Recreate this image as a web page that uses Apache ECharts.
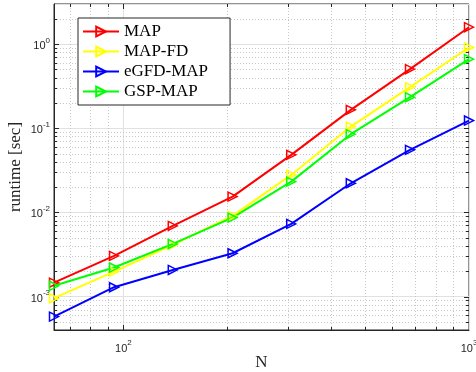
<!DOCTYPE html>
<html>
<head>
<meta charset="utf-8">
<script src="https://cdn.jsdelivr.net/npm/echarts@6/dist/echarts.min.js"></script>
<style>
  html, body { margin: 0; padding: 0; background: #fff; }
  #chart { width: 476px; height: 372px; }
</style>
</head>
<body>
<div id="chart"></div>
<script>
// N values (x axis, log)
var N = [63, 94, 139, 207, 306, 455, 675, 1000];

// runtime [sec] per method
var MAP      = [0.00146, 0.00304, 0.00691, 0.0154, 0.0483, 0.1655, 0.504, 1.59];
var MAP_FD   = [0.000955, 0.00198, 0.00411, 0.00908, 0.0279, 0.1047, 0.308, 0.911];
var EGFD_MAP = [0.000577, 0.00129, 0.00207, 0.00327, 0.0073, 0.0222, 0.0554, 0.1235];
var GSP_MAP  = [0.00134, 0.00221, 0.00422, 0.00867, 0.0232, 0.0851, 0.234, 0.663];

var NAMES  = ['MAP', 'MAP-FD', 'eGFD-MAP', 'GSP-MAP'];
var COLORS = ['#ff0000', '#ffff00', '#0000ff', '#00ff00'];

// axis limits
var X_MIN = 63, X_MAX = 1000;
var Y_MIN = 0.0004, Y_MAX = 3;

// major / minor ticks (log decades)
var X_MAJOR = [100];
var X_MINOR = [70, 80, 90, 200, 300, 400, 500, 600, 700, 800, 900];
var Y_MAJOR = [0.001, 0.01, 0.1, 1];
var Y_MINOR = [0.0005, 0.0006, 0.0007, 0.0008, 0.0009,
               0.002, 0.003, 0.004, 0.005, 0.006, 0.007, 0.008, 0.009,
               0.02, 0.03, 0.04, 0.05, 0.06, 0.07, 0.08, 0.09,
               0.2, 0.3, 0.4, 0.5, 0.6, 0.7, 0.8, 0.9, 2];

var AXIS_COLOR = '#262626';
var TICK_FONT = 'Liberation Sans, Arial, sans-serif';
var NAME_FONT = 'Liberation Serif, Times New Roman, serif';

// only label exact powers of ten: 10^k
function powLabel(v) {
  var e = Math.log10(v);
  var k = Math.round(e);
  if (Math.abs(e - k) > 1e-6) return '';
  return '{b|10}{s|' + (k < 0 ? '-' + (-k) : k) + '}';
}

var labelRich = {
  b: { fontSize: 11, fontFamily: TICK_FONT, color: AXIS_COLOR, lineHeight: 15, verticalAlign: 'bottom' },
  s: { fontSize: 8, fontFamily: TICK_FONT, color: AXIS_COLOR, verticalAlign: 'top', lineHeight: 15 }
};

// ticks on all four sides + dotted minor grid, placed through the axis scales
function tickItem(dir) {
  return function (params, api) {
    var v = api.value(dir === 'x' ? 0 : 1);
    var major = api.value(2) === 1;
    var len = major ? 5 : 3;
    var kids = [];
    var tickStyle = { stroke: AXIS_COLOR, lineWidth: 1 };
    var gridStyle = { stroke: '#c8c8c8', lineWidth: 1, lineDash: [1, 2] };
    if (dir === 'y') {
      var a = api.coord([X_MIN, v]), b = api.coord([X_MAX, v]);
      var y = Math.round(a[1]) + 0.5;
      if (!major) kids.push({ type: 'line', shape: { x1: a[0], y1: y, x2: b[0], y2: y }, style: gridStyle });
      kids.push({ type: 'line', shape: { x1: a[0], y1: y, x2: a[0] + len, y2: y }, style: tickStyle });
      kids.push({ type: 'line', shape: { x1: b[0] - len, y1: y, x2: b[0], y2: y }, style: tickStyle });
    } else {
      var c = api.coord([v, Y_MIN]), d = api.coord([v, Y_MAX]);
      var x = Math.round(c[0]) + 0.5;
      if (!major) kids.push({ type: 'line', shape: { x1: x, y1: c[1], x2: x, y2: d[1] }, style: gridStyle });
      kids.push({ type: 'line', shape: { x1: x, y1: c[1], x2: x, y2: c[1] - len }, style: tickStyle });
      kids.push({ type: 'line', shape: { x1: x, y1: d[1], x2: x, y2: d[1] + len }, style: tickStyle });
    }
    return { type: 'group', children: kids };
  };
}

var lineData = [MAP, MAP_FD, EGFD_MAP, GSP_MAP];
var series = NAMES.map(function (name, i) {
  return {
    name: name,
    type: 'line',
    data: N.map(function (n, j) { return [n, lineData[i][j]]; }),
    clip: false,
    z: 3,
    symbol: 'triangle',
    symbolSize: 9,
    symbolRotate: -90,
    lineStyle: { color: COLORS[i], width: 2 },
    itemStyle: { color: 'rgba(255,255,255,0)', borderColor: COLORS[i], borderWidth: 1.5 }
  };
});

series.push({
  type: 'custom', silent: true, z: 1, clip: false,
  renderItem: tickItem('y'),
  data: Y_MINOR.map(function (v) { return [X_MIN, v, 0]; })
    .concat(Y_MAJOR.map(function (v) { return [X_MIN, v, 1]; }))
});
series.push({
  type: 'custom', silent: true, z: 1, clip: false,
  renderItem: tickItem('x'),
  data: X_MINOR.map(function (v) { return [v, Y_MIN, 0]; })
    .concat(X_MAJOR.map(function (v) { return [v, Y_MIN, 1]; }))
});

var chart = echarts.init(document.getElementById('chart'), null, { renderer: 'canvas' });
chart.setOption({
  animation: false,
  backgroundColor: '#fff',
  grid: {
    left: 54, right: 7, top: 4, bottom: 42,
    outerBoundsMode: 'none', containLabel: false,
    show: true, borderColor: AXIS_COLOR, borderWidth: 1, backgroundColor: '#fff'
  },
  legend: {
    data: NAMES,
    orient: 'vertical',
    left: 78, top: 18,
    backgroundColor: '#fff',
    borderColor: AXIS_COLOR, borderWidth: 1, borderRadius: 0,
    padding: [5, 22, 5, 4],
    itemWidth: 36, itemHeight: 12, itemGap: 3,
    symbolRotate: 'inherit',
    textStyle: { fontFamily: NAME_FONT, fontSize: 17, color: '#000', lineHeight: 16 }
  },
  xAxis: {
    type: 'log', logBase: 10, min: X_MIN, max: X_MAX,
    name: 'N', nameLocation: 'middle', nameGap: 24, nameMoveOverlap: false,
    nameTextStyle: { fontFamily: NAME_FONT, fontSize: 17, color: AXIS_COLOR },
    axisLine: { show: true, lineStyle: { color: AXIS_COLOR, width: 1 } },
    axisTick: { show: false },
    axisLabel: { formatter: powLabel, rich: labelRich, margin: 9, showMinLabel: true, showMaxLabel: true, hideOverlap: false },
    splitLine: { show: true, lineStyle: { color: '#e1e1e1', width: 1 } },
    minorTick: { show: false }
  },
  yAxis: {
    type: 'log', logBase: 10, min: Y_MIN, max: Y_MAX,
    name: 'runtime [sec]', nameLocation: 'middle', nameGap: 30, nameMoveOverlap: false,
    nameTextStyle: { fontFamily: NAME_FONT, fontSize: 17, color: AXIS_COLOR },
    axisLine: { show: true, lineStyle: { color: AXIS_COLOR, width: 1 } },
    axisTick: { show: false },
    axisLabel: { formatter: powLabel, rich: labelRich, margin: 4, hideOverlap: false },
    splitLine: { show: true, lineStyle: { color: '#e1e1e1', width: 1 } },
    minorTick: { show: false }
  },
  series: series
});
</script>
</body>
</html>
